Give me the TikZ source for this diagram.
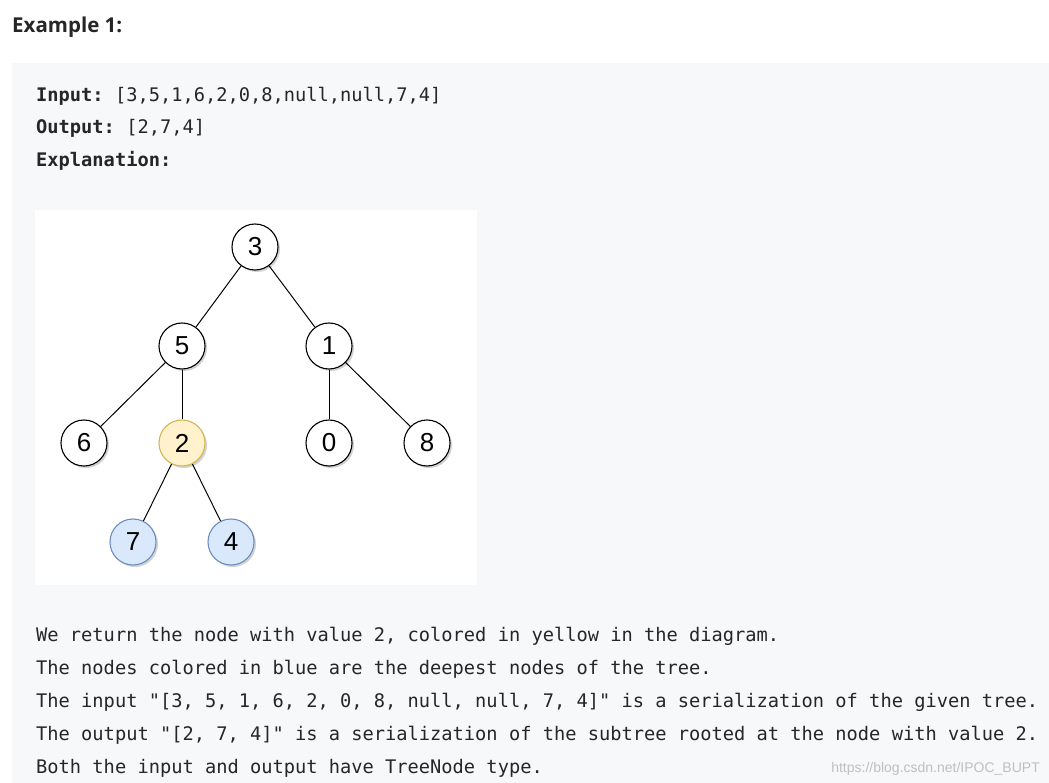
\documentclass[tikz,border=0pt]{standalone}
\usepackage{fontspec}
\setmainfont{Liberation Sans}
\newfontfamily\headf{Open Sans}
\setmonofont{DejaVu Sans Mono}
\usetikzlibrary{shadows}
\definecolor{boxbg}{HTML}{F7F8FA}
\definecolor{yel}{HTML}{FFF2CC}
\definecolor{yelb}{HTML}{D6B656}
\definecolor{blu}{HTML}{DAE8FC}
\definecolor{blub}{HTML}{6C8EBF}
\tikzset{
  tn/.style={circle,draw=black,fill=white,minimum size=46pt,inner sep=0pt,line width=1.1pt,
    font=\fontsize{26}{26}\selectfont,drop shadow={shadow xshift=2pt,shadow yshift=-2pt,opacity=0.35}},
  yn/.style={tn,fill=yel,draw=yelb},
  bn/.style={tn,fill=blu,draw=blub},
  mt/.style={anchor=base west,inner sep=0pt,font=\ttfamily\fontsize{18.7}{21}\selectfont,text=black!85},
  ed/.style={line width=1pt}
}
\begin{document}
\begin{tikzpicture}[x=1pt,y=-1pt]
\useasboundingbox (0,0) rectangle (1049,783);
\fill[white] (0,0) rectangle (1049,783);
\node[anchor=base west,inner sep=0pt,font=\headf\bfseries\fontsize{20.5}{23}\selectfont,text=black!85] (h) at (12,33) {Example 1:};
\fill[boxbg] (12,63) rectangle (1049,783);
\node[mt] (l1) at (36,102) {\bfseries Input:\mdseries{} [3,5,1,6,2,0,8,null,null,7,4]};
\node[mt] (l2) at (36,134) {\bfseries Output:\mdseries{} [2,7,4]};
\node[mt] (l3) at (36,167) {\bfseries Explanation:};
\fill[white] (35,210) rectangle (477,585);
\node[tn] (n3) at (255,247) {3};
\node[tn] (n5) at (182,346) {5};
\node[tn] (n1) at (329,346) {1};
\node[tn] (n6) at (84,443) {6};
\node[yn] (n2) at (182,443) {2};
\node[tn] (n0) at (329,443) {0};
\node[tn] (n8) at (427,443) {8};
\node[bn] (n7) at (133,542) {7};
\node[bn] (n4) at (231,542) {4};
\draw[ed] (n3)--(n5); \draw[ed] (n3)--(n1);
\draw[ed] (n5)--(n6); \draw[ed] (n5)--(n2);
\draw[ed] (n1)--(n0); \draw[ed] (n1)--(n8);
\draw[ed] (n2)--(n7); \draw[ed] (n2)--(n4);
\node[mt] (b1) at (36,641) {We return the node with value 2, colored in yellow in the diagram.};
\node[mt] (b2) at (36,674) {The nodes colored in blue are the deepest nodes of the tree.};
\node[mt] (b3) at (36,707) {The input "[3, 5, 1, 6, 2, 0, 8, null, null, 7, 4]" is a serialization of the given tree.};
\node[mt] (b4) at (36,740) {The output "[2, 7, 4]" is a serialization of the subtree rooted at the node with value 2.};
\node[mt] (b5) at (36,773) {Both the input and output have TreeNode type.};
\node[anchor=base east,inner sep=0pt,font=\fontsize{14}{16}\selectfont,text=black!25] (wm) at (1040,772) {https://blog.csdn.net/IPOC\_BUPT};
\end{tikzpicture}
\end{document}
